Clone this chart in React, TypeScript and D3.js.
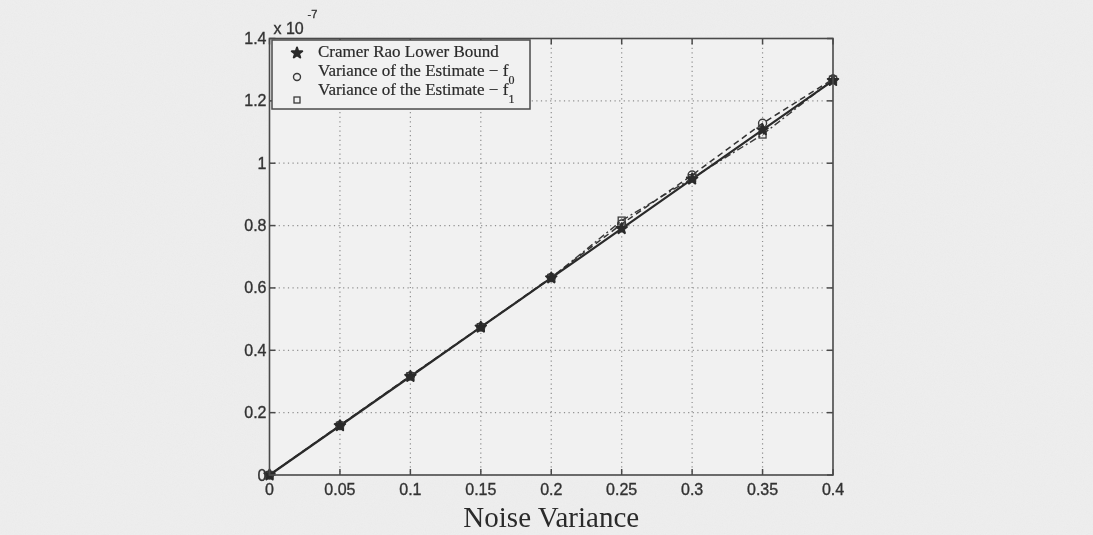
import React from "react";
import * as d3 from "d3";

// Noise variance values (x axis)
const noiseVariance = [0, 0.05, 0.1, 0.15, 0.2, 0.25, 0.3, 0.35, 0.4];
// Variances in units of 1e-7
const crlb = [0, 0.158, 0.316, 0.474, 0.632, 0.79, 0.949, 1.107, 1.265];
const varF0 = [0, 0.16, 0.318, 0.475, 0.634, 0.805, 0.962, 1.128, 1.27];
const varF1 = [0, 0.158, 0.317, 0.474, 0.632, 0.816, 0.952, 1.092, 1.268];

const xTicks = [0, 0.05, 0.1, 0.15, 0.2, 0.25, 0.3, 0.35, 0.4];
const yTicks = [0, 0.2, 0.4, 0.6, 0.8, 1, 1.2, 1.4];

const legendLabels = [
  { text: "Cramer Rao Lower Bound", sub: "" },
  { text: "Variance of the Estimate \u2212 f", sub: "0" },
  { text: "Variance of the Estimate \u2212 f", sub: "1" },
];

const W = 1093;
const H = 535;
const left = 269.5;
const right = 833;
const top = 38.5;
const bottom = 475;

const sans = "'Liberation Sans', Arial, Helvetica, sans-serif";
const serif = "'Liberation Serif', 'Times New Roman', serif";
const ink = "#2a2a2a";
const axisInk = "#4a4a4a";

export default function App() {
  const x = d3.scaleLinear().domain([0, 0.4]).range([left, right]);
  const y = d3.scaleLinear().domain([0, 1.4]).range([bottom, top]);

  const line = (vals: number[]) =>
    d3
      .line<number>()
      .x((_, i) => x(noiseVariance[i]))
      .y((v) => y(v))(vals) || "";

  const star = d3.symbol().type(d3.symbolStar).size(34)() || "";
  const tick = 6;

  return (
    <svg
      width={W}
      height={H}
      viewBox={`0 0 ${W} ${H}`}
      style={{ position: "absolute", left: 0, top: 0 }}
    >
      <defs>
        <filter id="grain" x="0" y="0" width="100%" height="100%">
          <feTurbulence type="fractalNoise" baseFrequency="0.9" numOctaves="2" seed="4" />
          <feColorMatrix type="saturate" values="0" />
        </filter>
        <filter id="soft">
          <feGaussianBlur stdDeviation="0.45" />
        </filter>
      </defs>

      <rect width={W} height={H} fill="#eeeeee" />
      <rect width={W} height={H} filter="url(#grain)" opacity={0.05} />

      <g filter="url(#soft)">
        {/* plot area */}
        <rect x={left} y={top} width={right - left} height={bottom - top} fill="#f1f1f1" />

        {/* dotted grid */}
        <g stroke="#8f8f8f" strokeWidth={1.2} strokeDasharray="1.2,3.4">
          {xTicks.slice(1, -1).map((t) => (
            <line key={"gx" + t} x1={x(t)} x2={x(t)} y1={top} y2={bottom} />
          ))}
          {yTicks.slice(1, -1).map((t) => (
            <line key={"gy" + t} x1={left} x2={right} y1={y(t)} y2={y(t)} />
          ))}
        </g>

        {/* series lines */}
        <path d={line(varF1)} fill="none" stroke="#3a3a3a" strokeWidth={1.4} strokeDasharray="7,3,2,3" />
        <path d={line(varF0)} fill="none" stroke="#333" strokeWidth={1.5} strokeDasharray="6,4" />
        <path d={line(crlb)} fill="none" stroke={ink} strokeWidth={2.2} />

        {/* markers */}
        {varF0.map((v, i) => (
          <circle
            key={"c" + i}
            cx={x(noiseVariance[i])}
            cy={y(v)}
            r={4}
            fill="none"
            stroke="#3a3a3a"
            strokeWidth={1.4}
          />
        ))}
        {varF1.map((v, i) => (
          <rect
            key={"s" + i}
            x={x(noiseVariance[i]) - 3.5}
            y={y(v) - 3.5}
            width={7}
            height={7}
            fill="none"
            stroke="#3a3a3a"
            strokeWidth={1.3}
          />
        ))}
        {crlb.map((v, i) => (
          <path
            key={"st" + i}
            d={star}
            transform={`translate(${x(noiseVariance[i])},${y(v)})`}
            fill={ink}
            stroke={ink}
            strokeWidth={2}
            strokeLinejoin="round"
          />
        ))}

        {/* axes box and inner ticks */}
        <rect
          x={left}
          y={top}
          width={right - left}
          height={bottom - top}
          fill="none"
          stroke={axisInk}
          strokeWidth={1.6}
        />
        <g stroke={axisInk} strokeWidth={1.5}>
          {xTicks.map((t) => (
            <g key={"tx" + t}>
              <line x1={x(t)} x2={x(t)} y1={bottom} y2={bottom - tick} />
              <line x1={x(t)} x2={x(t)} y1={top} y2={top + tick} />
            </g>
          ))}
          {yTicks.map((t) => (
            <g key={"ty" + t}>
              <line x1={left} x2={left + tick} y1={y(t)} y2={y(t)} />
              <line x1={right} x2={right - tick} y1={y(t)} y2={y(t)} />
            </g>
          ))}
        </g>

        {/* tick labels */}
        <g fontFamily={sans} fontSize={16} fill="#333" stroke="#333" strokeWidth={0.35}>
          {xTicks.map((t) => (
            <text key={"lx" + t} x={x(t)} y={bottom + 20} textAnchor="middle">
              {d3.format("~g")(t)}
            </text>
          ))}
          {yTicks.map((t) => (
            <text key={"ly" + t} x={left - 3} y={y(t) + 5.5} textAnchor="end">
              {d3.format("~g")(t)}
            </text>
          ))}
          <text x={left + 4} y={top - 5}>x 10</text>
          <text x={left + 38} y={top - 21} fontSize={11}>-7</text>
        </g>

        {/* x axis title */}
        <text
          x={(left + right) / 2}
          y={527}
          textAnchor="middle"
          fontFamily={serif}
          fontSize={29}
          fill="#2a2a2a"
        >
          Noise Variance
        </text>

        {/* legend */}
        <rect x={272} y={40} width={258} height={69} fill="#f1f1f1" stroke={axisInk} strokeWidth={1.5} />
        <g fontFamily={serif} fontSize={17} fill="#2a2a2a" stroke="#2a2a2a" strokeWidth={0.2}>
          {legendLabels.map((l, i) => (
            <text key={"lg" + i} x={318} y={57 + i * 19}>
              {l.text}
              {l.sub && (
                <tspan fontSize={12} dy={8}>
                  {l.sub}
                </tspan>
              )}
            </text>
          ))}
        </g>
        <path d={star} transform="translate(297,53)" fill={ink} stroke={ink} strokeWidth={2} strokeLinejoin="round" />
        <circle cx={297} cy={77} r={3.5} fill="none" stroke="#3a3a3a" strokeWidth={1.4} />
        <rect x={294} y={97} width={6} height={6} fill="none" stroke="#3a3a3a" strokeWidth={1.3} />
      </g>
    </svg>
  );
}
